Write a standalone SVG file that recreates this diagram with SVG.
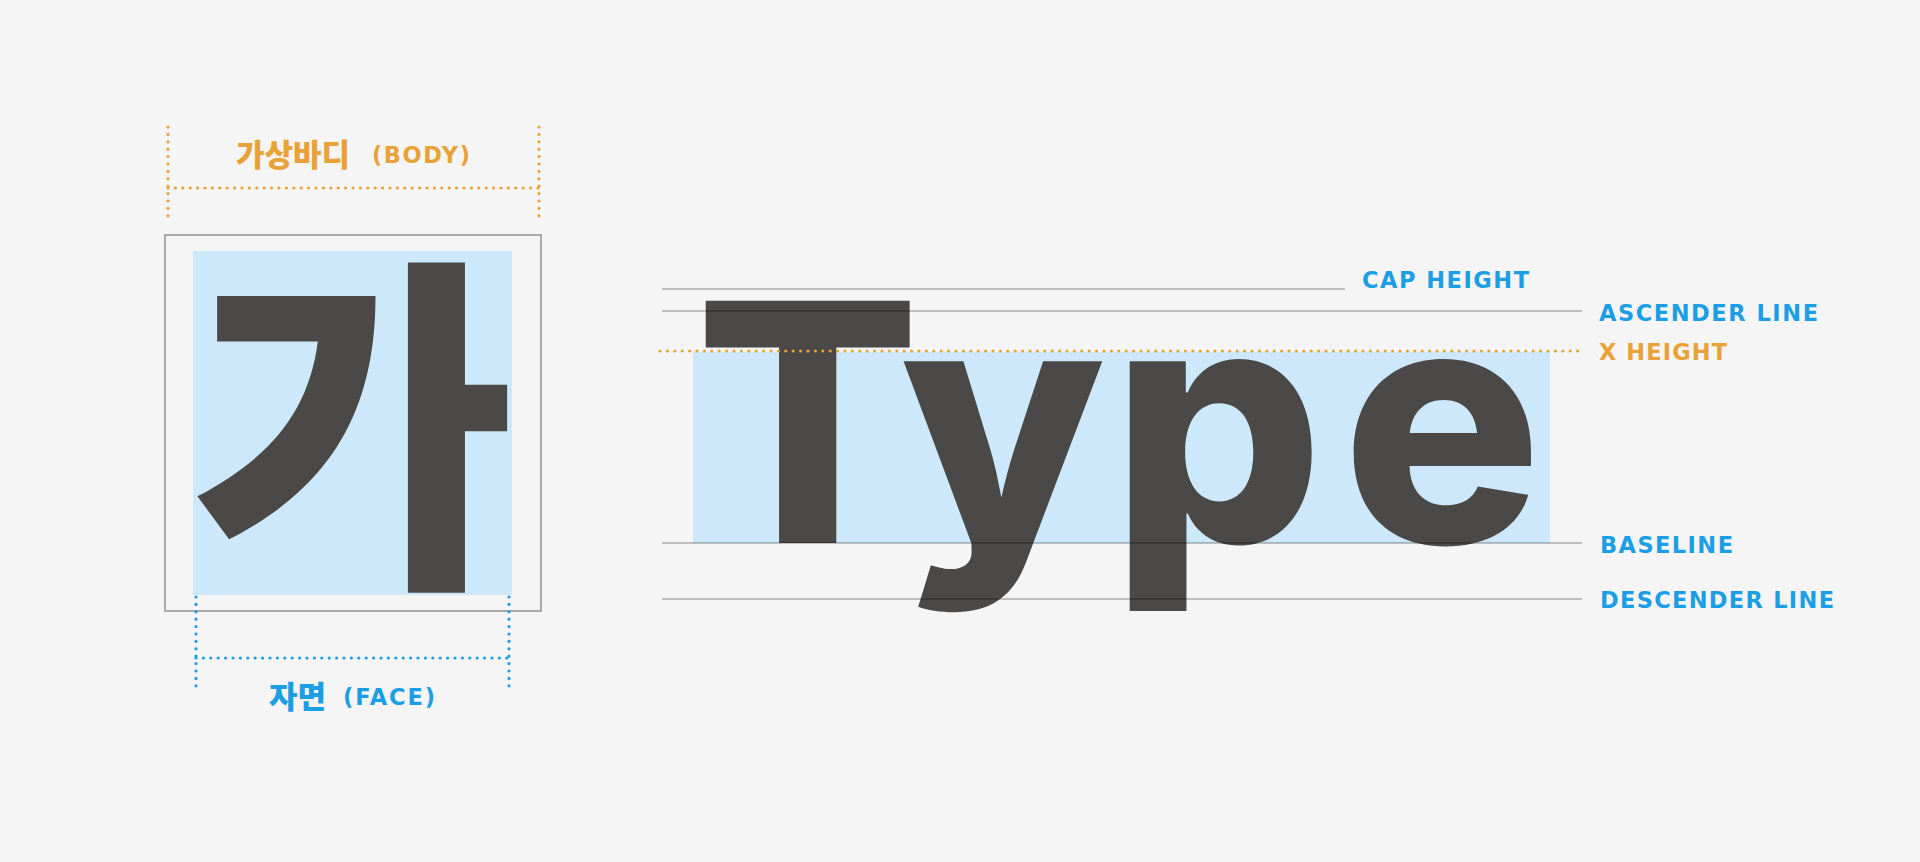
<svg xmlns="http://www.w3.org/2000/svg" width="1920" height="862" viewBox="0 0 1920 862">
  <style>
    .bg { fill: #f5f5f5; }
    .face { fill: #cde8fb; }
    .glyph { fill: #4b4948; }
    .guide { stroke: #000; stroke-opacity: 0.3; stroke-width: 1.6; fill: none; }
    .dot-o { stroke: #e8a238; stroke-width: 3.2; stroke-linecap: round; stroke-dasharray: 0 7.4; fill: none; }
    .dot-b { stroke: #1b9ee3; stroke-width: 3.2; stroke-linecap: round; stroke-dasharray: 0 7.4; fill: none; }
    .lbl { font-family: "DejaVu Sans", "Liberation Sans", sans-serif; font-weight: bold; font-size: 22.5px; }
    .kr { font-family: "Noto Sans CJK KR", "Noto Sans", sans-serif; font-weight: 900; }
    .blue { fill: #1b9ee3; }
    .orange { fill: #e8a238; }
  </style>
  <rect class="bg" x="0" y="0" width="1920" height="862"/>

  <g id="body-box">
    <rect x="165" y="235" width="376" height="376" fill="none" stroke="#aaaaaa" stroke-width="2"/>
  </g>
  <g id="face">
    <rect class="face" x="193" y="251" width="319" height="344"/>
  </g>
  <g id="glyph-ga">
    <text class="kr glyph" x="353" y="560" font-size="352" text-anchor="middle">가</text>
  </g>

  <g id="body-dimension">
    <line class="dot-o" x1="168" y1="127" x2="168" y2="223"/>
    <line class="dot-o" x1="539" y1="127" x2="539" y2="223"/>
    <line class="dot-o" x1="168" y1="188" x2="539" y2="188"/>
    <text class="kr orange" x="236" y="166" font-size="31">가상바디</text>
    <text class="lbl orange" x="372" y="163" textLength="98" lengthAdjust="spacing">(BODY)</text>
  </g>

  <g id="face-dimension">
    <line class="dot-b" x1="196" y1="597" x2="196" y2="693"/>
    <line class="dot-b" x1="509" y1="597" x2="509" y2="693"/>
    <line class="dot-b" x1="196" y1="658" x2="509" y2="658"/>
    <text class="kr blue" x="269" y="708" font-size="31">자면</text>
    <text class="lbl blue" x="343" y="705" textLength="92" lengthAdjust="spacing">(FACE)</text>
  </g>

  <g id="type-sample">
    <rect class="face" x="693" y="352" width="857" height="191"/>
    <text class="glyph" x="695 900 1111 1342" y="543" font-family="Inter, 'Liberation Sans', sans-serif" font-weight="800" font-size="333">Type</text>
  </g>

  <g id="connectors">
    <line class="guide" x1="662" y1="289" x2="1345" y2="289"/>
    <line class="guide" x1="662" y1="311" x2="1582" y2="311"/>
    <line class="dot-o" x1="660" y1="351" x2="1582" y2="351"/>
    <line class="guide" x1="662" y1="543" x2="1582" y2="543"/>
    <line class="guide" x1="662" y1="599" x2="1582" y2="599"/>
  </g>

  <g id="metric-labels">
    <text class="lbl blue" x="1362" y="288" textLength="167" lengthAdjust="spacing">CAP HEIGHT</text>
    <text class="lbl blue" x="1599" y="321" textLength="219" lengthAdjust="spacing">ASCENDER LINE</text>
    <text class="lbl orange" x="1599" y="360" textLength="128" lengthAdjust="spacing">X HEIGHT</text>
    <text class="lbl blue" x="1600" y="553" textLength="133" lengthAdjust="spacing">BASELINE</text>
    <text class="lbl blue" x="1600" y="608" textLength="234" lengthAdjust="spacing">DESCENDER LINE</text>
  </g>
</svg>
